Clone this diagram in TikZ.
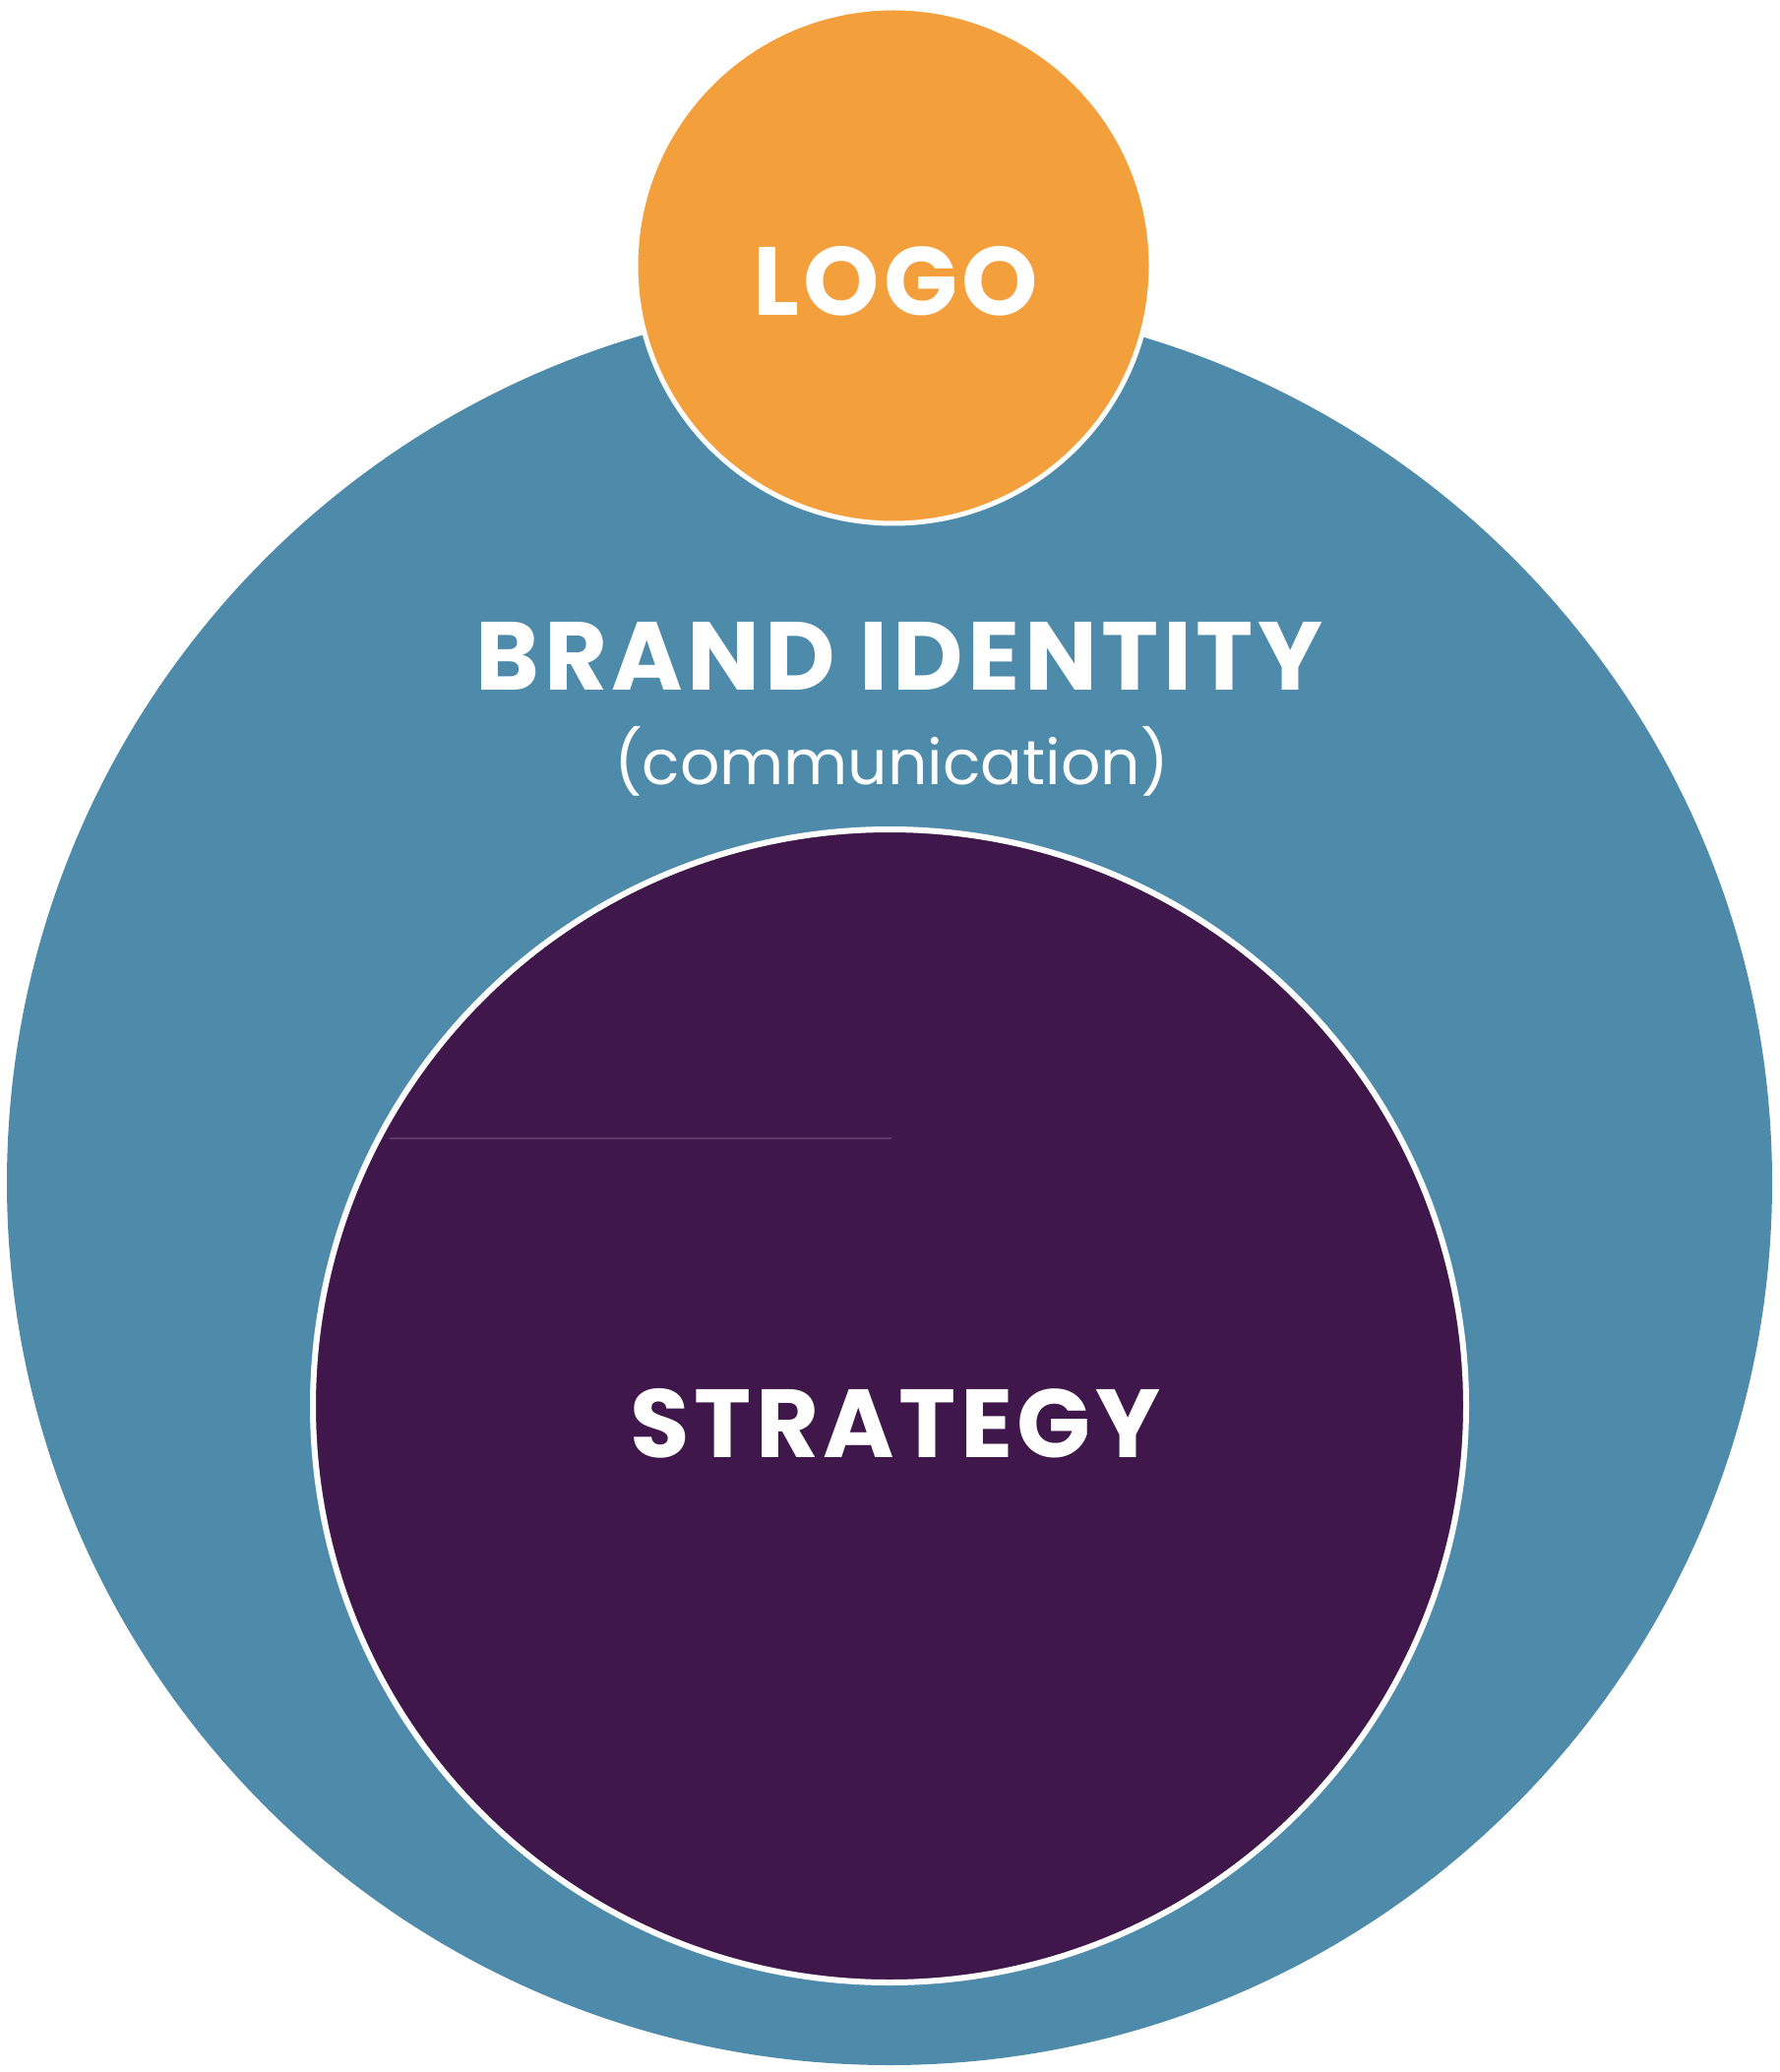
\documentclass[tikz,border=0pt]{standalone}
\usepackage{fontspec}
\setmainfont{Poppins}
\usepackage{tikz}
\usetikzlibrary{positioning}
\definecolor{identityblue}{HTML}{4E8BAB}
\definecolor{logoorange}{HTML}{F39F3C}
\definecolor{strategyplum}{HTML}{40174A}

\begin{document}
\begin{tikzpicture}[
        x=0.1mm,
        y=-0.1mm,
        disc/.style={
            circle,
            inner sep=0pt
        },
        heading/.style={
            text=white,
            anchor=base,
            inner sep=0pt,
            font=\bfseries\fontsize{28}{30}\selectfont\addfontfeatures{LetterSpace=4.5}
        },
        subheading/.style={
            text=white,
            anchor=base,
            inner sep=0pt,
            font=\fontsize{18}{20}\selectfont
        }
    ]

    % Page
    \fill [white] (0,0) rectangle (1809,2106);

    % Circles
    \node [disc, fill=identityblue, minimum size=179.4mm] (identity) at (904,1202) {};
    \node [disc, fill=logoorange, draw=white, line width=0.5mm, minimum size=52.4mm] (logo) at (908,270) {};
    \node [disc, fill=strategyplum, draw=white, line width=0.6mm, minimum size=117.2mm] (strategy) at (904,1429) {};

    % faint seam inside the strategy disc
    \coordinate (seamA) at (396,1157);
    \coordinate (seamB) at (906,1157);
    \draw [strategyplum!85!white, line width=0.12mm] (seamA) -- (seamB);

    % Labels
    \node [heading] (logotext) at (910,321) {LOGO};
    \node [heading] (brandtext) at (914,701) {BRAND IDENTITY};
    \node [subheading] (commtext) at (906,797) {(communication)};
    \node [heading] (strategytext) at (910,1481) {STRATEGY};

\end{tikzpicture}
\end{document}
